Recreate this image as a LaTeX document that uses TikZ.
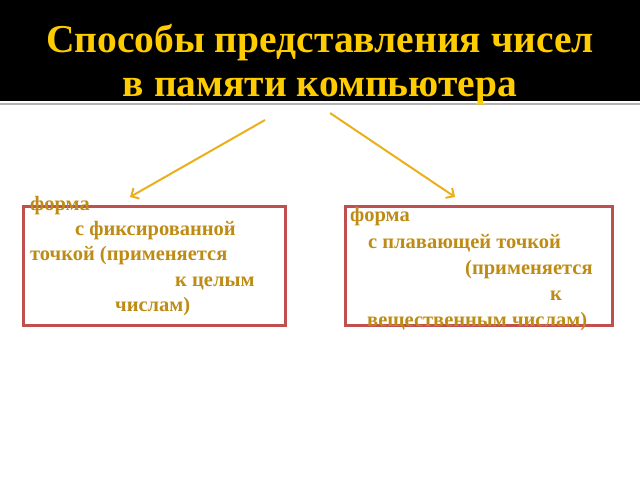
\documentclass[tikz,border=0pt]{standalone}
\usepackage{fontspec}
\setmainfont{Liberation Serif}
\usetikzlibrary{arrows.meta}
\definecolor{gold}{RGB}{255,204,0}
\definecolor{txt}{RGB}{190,140,20}
\definecolor{boxc}{RGB}{192,80,77}
\definecolor{arr}{RGB}{235,175,30}
\begin{document}
\begin{tikzpicture}[x=1pt,y=-1pt,
  lbl/.style={anchor=base west,inner sep=0pt,text=txt,font=\bfseries\fontsize{20.5}{22}\selectfont},
  bx/.style={draw=boxc,line width=3pt},
  ar/.style={draw=arr,line width=2pt,-{Straight Barb[length=6pt,width=12pt]}}]
\useasboundingbox (0,0) rectangle (640,480);
\fill[black] (0,0) rectangle (640,101);
\draw[gray!60,line width=2pt] (0,104) -- (640,104);
\node[text=gold,font=\bfseries\fontsize{39.5}{44}\selectfont,align=center] (title) at (320,65) {Способы представления чисел\\в памяти компьютера};
\draw[bx] (23,206) rectangle (285,325);
\draw[bx] (345,206) rectangle (612,325);
\coordinate (a1) at (265,120); \coordinate (a2) at (130,197);
\coordinate (b1) at (330,113); \coordinate (b2) at (455,197);
\draw[ar] (a1) -- (a2);
\draw[ar] (b1) -- (b2);
\node[lbl] (l1) at (30,210) {форма};
\node[lbl] (l2) at (75,235) {с фиксированной};
\node[lbl] (l3) at (30,260) {точкой (применяется};
\node[lbl] (l4) at (175,286) {к целым};
\node[lbl] (l5) at (115,311) {числам)};
\node[lbl] (r1) at (350,221) {форма};
\node[lbl] (r2) at (368,248) {с плавающей точкой};
\node[lbl] (r3) at (465,274) {(применяется};
\node[lbl] (r4) at (550,300) {к};
\node[lbl] (r5) at (367,326) {вещественным числам)};
\end{tikzpicture}
\end{document}
